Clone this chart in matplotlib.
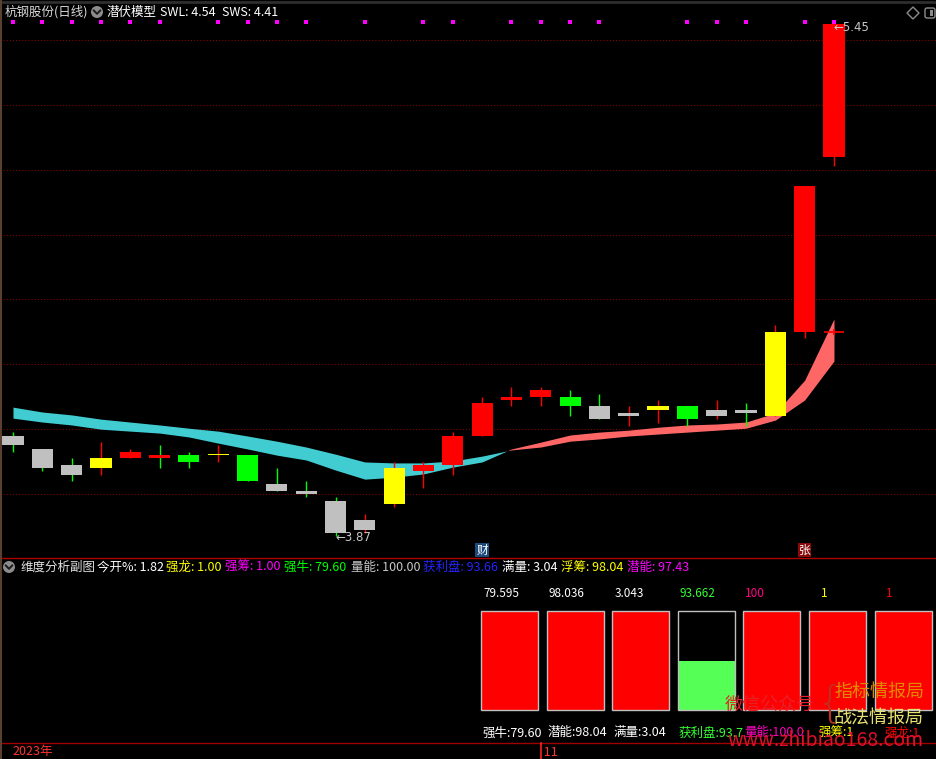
import matplotlib
matplotlib.use('Agg')
import matplotlib.pyplot as plt
import matplotlib.transforms as mtransforms
from matplotlib.patches import Circle, Polygon, FancyBboxPatch
import numpy as np

plt.rcParams['font.family'] = ['Noto Sans CJK SC', 'DejaVu Sans']

W, H = 937, 759

# daily candles (杭钢股份)
opens = [4.18, 4.14, 4.09, 4.08, 4.11, 4.11, 4.12, 4.12, 4.12, 4.03,
         4.01, 3.98, 3.92, 3.97, 4.07, 4.09, 4.18, 4.29, 4.30, 4.30,
         4.27, 4.25, 4.26, 4.27, 4.26, 4.26, 4.24, 4.50, 5.04]
highs = [4.19, 4.14, 4.11, 4.16, 4.14, 4.15, 4.13, 4.15, 4.12, 4.08,
         4.04, 3.99, 3.94, 4.10, 4.10, 4.19, 4.30, 4.33, 4.33, 4.32,
         4.31, 4.27, 4.29, 4.27, 4.29, 4.28, 4.52, 4.95, 5.45]
lows = [4.13, 4.07, 4.04, 4.06, 4.11, 4.08, 4.08, 4.10, 4.04, 4.01,
        3.99, 3.87, 3.88, 3.96, 4.02, 4.06, 4.18, 4.27, 4.27, 4.24,
        4.23, 4.21, 4.22, 4.21, 4.23, 4.21, 4.24, 4.48, 5.01]
closes = [4.15, 4.08, 4.06, 4.11, 4.13, 4.12, 4.10, 4.12, 4.04, 4.01,
          4.00, 3.88, 3.89, 4.08, 4.09, 4.18, 4.28, 4.30, 4.32, 4.27,
          4.23, 4.24, 4.27, 4.23, 4.24, 4.25, 4.50, 4.95, 5.45]
body_colors = ['g', 'g', 'g', 'y', 'r', 'r', 'G', 'y', 'G', 'g',
               'g', 'g', 'g', 'y', 'r', 'r', 'r', 'r', 'r', 'G',
               'g', 'g', 'y', 'G', 'g', 'g', 'y', 'r', 'r']
wick_colors = ['G', 'G', 'G', 'r', 'r', 'G', 'G', 'r', 'G', 'G',
               'G', 'G', 'r', 'r', 'r', 'r', 'r', 'r', 'r', 'G',
               'G', 'r', 'r', 'G', 'r', 'G', 'r', 'r', 'r']

# 潜伏模型 band lines
swl = [4.234, 4.222, 4.213, 4.200, 4.194, 4.188, 4.176, 4.157, 4.139, 4.120,
       4.105, 4.074, 4.046, 4.052, 4.062, 4.083, 4.099, 4.139, 4.160, 4.182,
       4.191, 4.197, 4.206, 4.213, 4.216, 4.222, 4.250, 4.351, 4.540]
sws = [4.268, 4.253, 4.244, 4.231, 4.222, 4.213, 4.203, 4.194, 4.179, 4.163,
       4.145, 4.123, 4.099, 4.096, 4.096, 4.102, 4.117, 4.136, 4.145, 4.163,
       4.170, 4.179, 4.185, 4.191, 4.197, 4.203, 4.228, 4.290, 4.410]

signal_idx = [0, 1, 2, 3, 4, 5, 7, 8, 9, 10, 12, 14, 15, 17, 18, 19, 20,
              23, 24, 25, 27, 28]
cross_idx = [28]
cross_price = [4.50]
event_idx = [16, 27]
event_text = ['财', '张']
event_bg = ['#1c4a7a', '#8a0a0a']
grid_levels = [4.0, 4.2, 4.4, 4.6, 4.8, 5.0, 5.2, 5.4]
month_idx = 18
month_label = '11'

# 维度分析副图
ind_names = ['强牛', '潜能', '满量', '获利盘', '量能', '强筹', '强龙']
ind_values = [79.595, 98.036, 3.043, 93.662, 100, 1, 1]
ind_bottom = ['强牛:79.60', '潜能:98.04', '满量:3.04', '获利盘:93.7',
              '量能:100.0', '强筹:1', '强龙:1']
ind_fill = [1, 1, 1, 0.495, 1, 1, 1]

pal = {'g': '#c0c0c0', 'r': '#ff0000', 'G': '#00ff00', 'y': '#ffff00'}

fig = plt.figure(figsize=(W / 100, H / 100), dpi=100, facecolor='black')

# ---- main k-line panel
ax = fig.add_axes([0, 202 / H, 1, 557 / H])
ax.set_facecolor('black')
ax.set_xlim(-0.443, 31.514)
ax.set_ylim(3.806, 5.523)
ax.axis('off')

for lv in grid_levels:
    ax.axhline(lv, xmin=3 / W, color='#8b0000', lw=0.75, ls=(0, (1, 2)), zorder=1)

x = np.arange(len(opens))
a = np.array(swl)
b = np.array(sws)
ax.fill_between(x, a, b, where=a <= b, interpolate=True, color='#40ccd0', lw=0, zorder=2)
ax.fill_between(x, a, b, where=a >= b, interpolate=True, color='#ff6666', lw=0, zorder=2)

for i in x:
    ax.vlines(i, lows[i], highs[i], color=pal[wick_colors[i]], lw=1, zorder=3)
    lo, hi = min(opens[i], closes[i]), max(opens[i], closes[i])
    ax.bar(i, max(hi - lo, 0.004), bottom=lo, width=0.72,
           color=pal[body_colors[i]], lw=0, zorder=4)

ax.plot(cross_idx, cross_price, ls='none', marker='_', ms=15, mew=1.2, color='red', zorder=5)
ax.plot(cross_idx, cross_price, ls='none', marker='|', ms=4, mew=1.2, color='red', zorder=5)

ax.plot(signal_idx, [0.961] * len(signal_idx), transform=ax.get_xaxis_transform(),
        ls='none', marker='s', ms=2.4, color='#ff00ff', mew=0)

hi_i = int(np.argmax(highs))
lo_i = int(np.argmin(lows))
ax.annotate(f'\u2190{highs[hi_i]:.2f}', xy=(hi_i, highs[hi_i]), xytext=(0, -3),
            textcoords='offset points', ha='left', va='center', color='#c8c8c8', fontsize=8.5,
            family='DejaVu Sans', zorder=6)
ax.annotate(f'\u2190{lows[lo_i]:.2f}', xy=(lo_i, lows[lo_i]), xytext=(0, -1),
            textcoords='offset points', ha='left', va='center', color='#c8c8c8', fontsize=8.5,
            family='DejaVu Sans', zorder=6)

for i, t, bg in zip(event_idx, event_text, event_bg):
    ax.text(i, 0.0125, t, transform=ax.get_xaxis_transform(), ha='center', va='center',
            color='white', fontsize=8.5,
            bbox=dict(boxstyle='square,pad=0.08', fc=bg, ec='none'))

# ---- sub panel
sub = fig.add_axes([0, 17 / H, 1, 184 / H])
sub.set_facecolor('black')
sub.set_xlim(-7.767, 6.517)
sub.set_ylim(-0.323, 1.535)
sub.axis('off')

bx = np.arange(len(ind_names))
bw = 0.869
fill_cols = ['#ff0000' if f >= 1 else '#55ff55' for f in ind_fill]
sub.bar(bx, ind_fill, width=bw, color=fill_cols, lw=0)
sub.bar(bx, 1.0, width=bw, facecolor='none', edgecolor='#c0c0c0', lw=1)

top_cols = ['white', 'white', 'white', '#33ff33', '#ff0080', '#ffff00', '#ff0000']
bot_cols = ['white', 'white', 'white', '#33ff33', '#ff00c0', '#ffff00', '#ff0000']
for i, v in enumerate(ind_values):
    indent = 0.18 if i >= 5 else 0.03
    sub.text(i - bw / 2 + indent, 1.172, f'{v:g}', color=top_cols[i], fontsize=8.5,
             ha='left', va='center')
    indent = 0.15 if i >= 5 else 0.015
    sub.text(i - bw / 2 + indent, -0.232, ind_bottom[i], color=bot_cols[i], fontsize=9,
             ha='left', va='center')

# ---- overlay: headers, separators, watermark
ov = fig.add_axes([0, 0, 1, 1], zorder=10)
ov.set_xlim(0, W)
ov.set_ylim(H, 0)
ov.axis('off')
ov.patch.set_alpha(0)

ov.plot([0, W], [1.5, 1.5], color='#2e2e2e', lw=2)
ov.plot([0, W], [557.5, 557.5], color='#b00000', lw=1)
ov.plot([0, W], [743, 743], color='#a00000', lw=1)
ov.plot([1, 1], [0, H], color='#5a4030', lw=1.5)


def chevron(cx, cy):
    ov.add_patch(Circle((cx, cy), 6, fc='#8c8c8c', ec='none'))
    ov.plot([cx - 3.2, cx, cx + 3.2], [cy - 1.5, cy + 1.8, cy - 1.5], color='#1a1a1a', lw=1.4)


ov.text(5, 12, '杭钢股份(日线)', color='#d8d8d8', fontsize=9, va='center')
chevron(97, 12)
ov.text(107, 12, '潜伏模型', color='white', fontsize=9, va='center')
ov.text(160, 12, f'SWL: {swl[-1]:.2f}', color='white', fontsize=9, va='center')
ov.text(222, 12, f'SWS: {sws[-1]:.2f}', color='white', fontsize=9, va='center')

ov.add_patch(Polygon([(913, 7), (919, 13), (913, 19), (907, 13)], closed=True,
                     fc='none', ec='#8c8c8c', lw=1))
ov.add_patch(FancyBboxPatch((925, 8), 10, 10, boxstyle='round,pad=0,rounding_size=2',
                            fc='none', ec='#8c8c8c', lw=1))
ov.add_patch(FancyBboxPatch((930, 10), 3, 6, boxstyle='square,pad=0', fc='#8c8c8c', ec='none'))

chevron(9, 567)
sub_header = [
    ('维度分析副图', 20, '#e0e0e0'),
    ('今开%: 1.82', 97, 'white'),
    ('强龙: 1.00', 166, '#ffff00'),
    ('强筹: 1.00', 225, '#ff00ff'),
    ('强牛: 79.60', 284, '#00ff00'),
    ('量能: 100.00', 351, '#c8c8c8'),
    ('获利盘: 93.66', 423, '#2424ff'),
    ('满量: 3.04', 502, 'white'),
    ('浮筹: 98.04', 561, '#ffff00'),
    ('潜能: 97.43', 627, '#ff00ff'),
]
for t, px, c in sub_header:
    ov.text(px, 567, t, color=c, fontsize=9, va='center')

# watermark
ov.text(725, 705, '微信公众号', color='#e8202a', fontsize=13, va='center')
ov.text(817, 704, '{', color='#c03020', fontsize=30, va='center', family='DejaVu Sans',
        fontweight='light')
ov.text(834, 692, '指标情报局', color='#e08a00', fontsize=13, va='center')
ov.text(834, 718, '战法情报局', color='#e8e070', fontsize=13, va='center')
ov.text(727, 741, 'www.zhibiao168.com', color='#e0102a', fontsize=14, va='center')

# bottom date strip
ov.text(12, 752, '2023年', color='#ff3333', fontsize=9, va='center')
tr = mtransforms.blended_transform_factory(ax.transData, ov.transData)
ov.plot([month_idx, month_idx], [743, H], color='#ff2020', lw=1.2, transform=tr)
ov.text(month_idx, 752, ' ' + month_label, color='#ff3333', fontsize=9, va='center',
        ha='left', transform=tr)

fig.savefig('out.png', dpi=100, facecolor='black')
